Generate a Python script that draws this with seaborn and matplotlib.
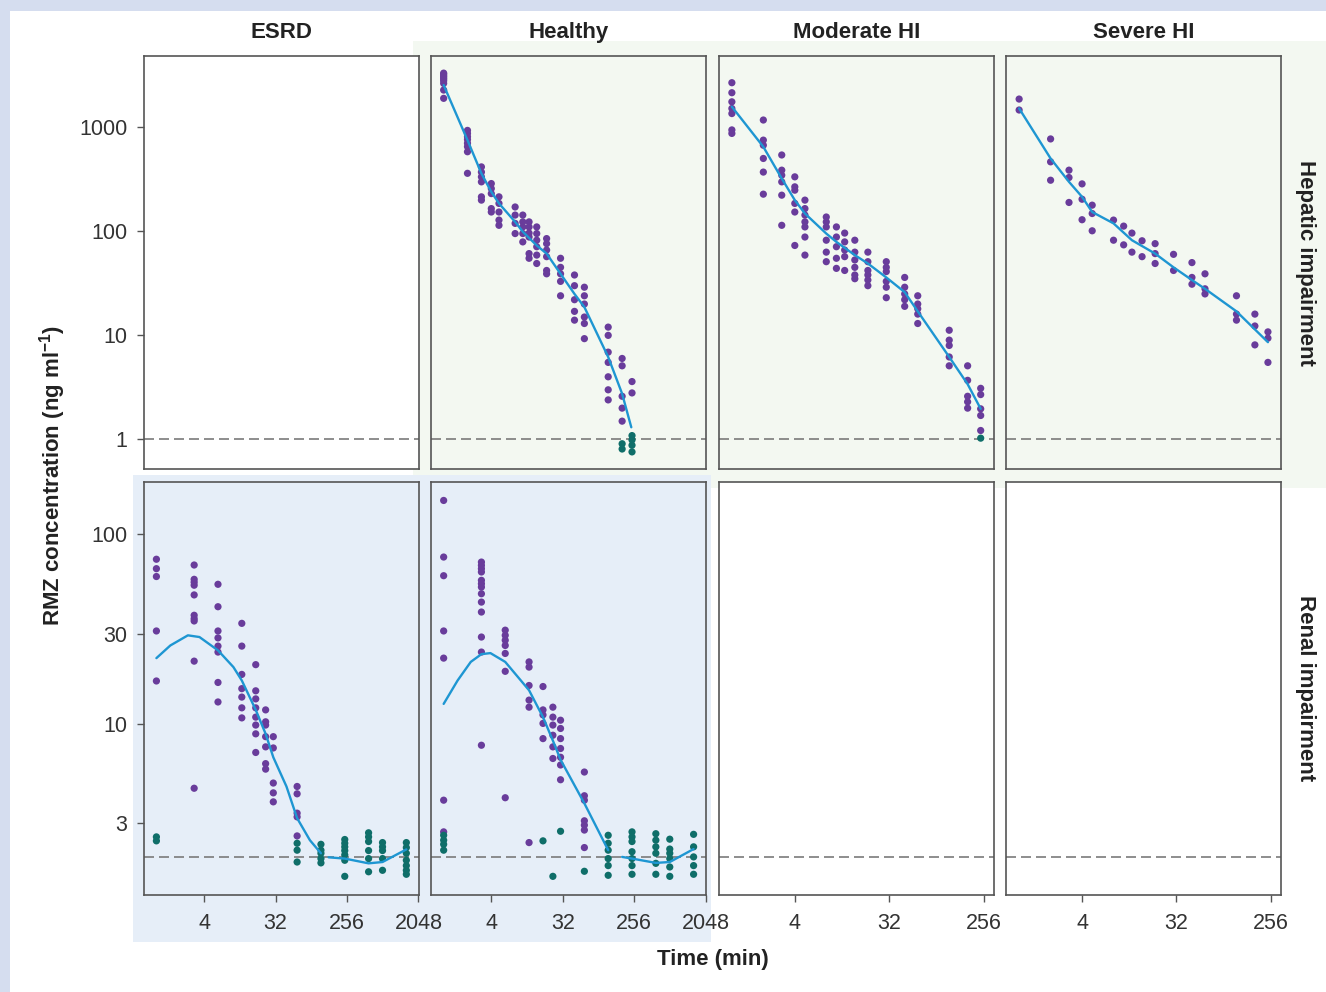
import matplotlib.pyplot as plt
import pandas as pd
import seaborn as sns
from matplotlib.patches import Rectangle
from matplotlib.ticker import NullLocator

W, H = 1326, 992

STUDIES = ["Hepatic impairment", "Renal impairment"]
GROUPS = ["ESRD", "Healthy", "Moderate HI", "Severe HI"]
LLOQ = {"Hepatic impairment": 1, "Renal impairment": 2}

# sampling time (min) -> observed concentrations (ng/ml)
HEP_HEALTHY = {
    1: [3300, 3210, 3100, 3000, 2900, 2790, 2630, 2270, 1890],
    2: [930, 870, 810, 760, 700, 650, 580, 360],
    3: [415, 370, 333, 298, 214, 199],
    4: [287, 257, 230, 165, 153],
    5: [214, 185, 153, 128, 114],
    8: [171, 143, 119, 95],
    10: [143, 123, 110, 95, 79],
    12: [123, 110, 96, 88, 61, 55],
    15: [110, 95, 82, 71, 59, 49],
    20: [85, 76, 66, 57, 42, 39],
    30: [55, 45, 39, 33, 24],
    45: [38, 30, 22, 17, 14],
    60: [29, 24, 20, 15, 13, 9.3],
    120: [12, 10, 6.9, 5.5, 4.0, 3.0, 2.4],
    180: [6.0, 5.1, 2.6, 2.0, 1.5],
    240: [3.6, 2.8],
}
HEP_HEALTHY_BLQ = {180: [0.91, 0.81], 240: [1.09, 0.99, 0.88, 0.76]}
HEP_HEALTHY_FIT_T = [1, 2, 3, 4, 5, 8, 10, 15, 20, 30, 45, 60, 120, 180, 235]
HEP_HEALTHY_FIT_C = [2535, 750, 359, 239, 185, 123, 99, 73, 61, 39, 25, 18.7, 6.2, 2.75, 1.31]

HEP_MODERATE = {
    1: [2670, 2140, 1750, 1510, 1350, 940, 870],
    2: [1170, 750, 670, 500, 370, 227],
    3: [540, 386, 345, 298, 222, 114],
    4: [333, 267, 248, 185, 153, 73],
    5: [199, 165, 143, 123, 110, 88, 59],
    8: [137, 123, 110, 82, 63, 51],
    10: [110, 88, 71, 55, 44],
    12: [96, 79, 66, 57, 42],
    15: [82, 63, 53, 45, 38, 35],
    20: [63, 51, 42, 38, 34, 30],
    30: [51, 45, 41, 33, 29, 23],
    45: [36, 29, 25, 22, 19],
    60: [24, 20, 18, 16, 13],
    120: [11.2, 9.0, 8.0, 6.2, 5.1],
    180: [5.1, 3.7, 2.6, 2.3, 2.0],
    240: [3.1, 2.7, 1.97, 1.7, 1.22],
}
HEP_MODERATE_BLQ = {240: [1.03]}
HEP_MODERATE_FIT_T = [1, 2, 3, 4, 5, 8, 10, 15, 20, 30, 45, 60, 120, 180, 240]
HEP_MODERATE_FIT_C = [1570, 647, 321, 199, 148, 95, 79, 59, 49, 36, 26, 17, 6.2, 3.4, 1.97]

HEP_SEVERE = {
    1: [1860, 1460],
    2: [770, 464, 309],
    3: [386, 328, 189],
    4: [285, 203, 129],
    5: [178, 148, 101],
    8: [128, 82],
    10: [112, 74],
    12: [96, 63],
    15: [81, 57],
    20: [76, 61, 49],
    30: [60, 42],
    45: [50, 36, 31],
    60: [39, 28, 25],
    120: [24, 16, 14],
    180: [16, 12.3, 8.1],
    240: [10.8, 9.4, 5.5],
}
HEP_SEVERE_FIT_T = [1, 2, 3, 4, 5, 8, 12, 20, 30, 45, 60, 120, 240]
HEP_SEVERE_FIT_C = [1513, 500, 298, 214, 153, 119, 82, 61, 45, 34, 28, 17, 8.6]

REN_ESRD = {
    1: [74, 66, 60, 31, 16.9],
    3: [69, 58, 56, 54, 48, 37.5, 36, 35, 21.5, 4.6],
    6: [54.6, 41.6, 31, 28.5, 25.8, 24, 16.6, 13.1],
    12: [34, 25.8, 18.3, 15.4, 13.9, 12.2, 10.8],
    18: [20.6, 15, 13.6, 12.2, 10.9, 9.9, 8.9, 7.1],
    24: [11.9, 10.3, 9.9, 8.6, 7.6, 6.2, 5.8],
    30: [8.6, 7.5, 4.9, 4.35, 3.9],
    60: [4.7, 4.3, 3.4, 3.25, 2.58],
}
REN_ESRD_BLQ = {
    1: [2.55, 2.43],
    60: [2.36, 2.17, 1.88],
    120: [2.33, 2.17, 2.09, 1.96, 1.86],
    240: [2.47, 2.36, 2.26, 2.16, 2.05, 1.92, 1.58],
    480: [2.68, 2.55, 2.41, 2.16, 1.96, 1.67],
    720: [2.38, 2.26, 2.16, 1.96, 1.70],
    1440: [2.38, 2.24, 2.09, 1.92, 1.80, 1.70, 1.62],
}
REN_ESRD_FIT_T = [1, 1.5, 2.5, 3.5, 6, 9.4, 12, 18, 24, 30, 44, 60, 87, 120,
                  150, 240, 480, 720, 1440]
REN_ESRD_FIT_C = [22.3, 26, 29.4, 28.8, 24.5, 20, 17, 11.9, 8.9, 6.7, 4.7, 3.2, 2.45, 2.09,
                  1.99, 1.96, 1.85, 1.88, 2.19]
REN_ESRD_FIT_SEG = [0] * 14 + [1] * 5

REN_HEALTHY = {
    1: [151, 76, 60.6, 31, 22.3, 3.98, 2.71],
    3: [71.5, 68.7, 66, 63.4, 57.3, 55, 52.8, 48.7, 44, 39, 28.8, 24, 7.75],
    6: [31.3, 29.4, 27.7, 26, 23.6, 19, 4.1],
    12: [21.3, 20, 16, 13.4, 12.3, 2.38],
    18: [15.8, 11.9, 11.2, 10.1, 8.4],
    24: [12.3, 10.9, 9.9, 8.75, 7.6, 6.6],
    30: [10.5, 9.5, 8.4, 7.45, 6.7, 6.1, 5.1],
    60: [5.6, 4.2, 3.98, 3.1, 2.94, 2.77, 2.24],
}
REN_HEALTHY_BLQ = {
    1: [2.6, 2.45, 2.33, 2.17],
    18: [2.43],
    24: [1.58],
    30: [2.73],
    60: [1.68],
    120: [2.6, 2.36, 2.17, 1.96, 1.80, 1.6],
    240: [2.71, 2.55, 2.41, 2.13, 1.96, 1.80, 1.62],
    480: [2.65, 2.45, 2.26, 2.09, 1.85, 1.62],
    720: [2.48, 2.2, 2.09, 1.96, 1.77, 1.58],
    1440: [2.63, 2.26, 2.0, 1.80, 1.62],
}
REN_HEALTHY_FIT_T = [1, 1.5, 2.2, 3, 3.9, 6, 12, 18, 24, 30, 60, 120,
                     180, 240, 480, 720, 1440]
REN_HEALTHY_FIT_C = [12.8, 17, 21.3, 23.4, 23.7, 21.3, 15.1, 10.9, 8.2, 6.5, 3.83, 2.17,
                     2.0, 1.96, 1.86, 1.88, 2.2]
REN_HEALTHY_FIT_SEG = [0] * 12 + [1] * 5

PURPLE = "#693c9b"
TEAL = "#0f6e69"
LINE_COLOR = "#1e96d2"
GREEN_BG = "#f3f8f1"
BLUE_BG = "#e6eef8"
FRAME = "#d5ddef"
SPINE = "#555555"


def collect(rows, study, group, obs, kind):
    for t, vals in obs.items():
        for v in vals:
            rows.append(dict(study=study, group=group, kind=kind, time=t, conc=v, seg=0))


def collect_fit(rows, study, group, ts, cs, segs=None):
    segs = segs or [0] * len(ts)
    for t, c, s in zip(ts, cs, segs):
        rows.append(dict(study=study, group=group, kind="fit", time=t, conc=c, seg=s))


rows = []
collect(rows, STUDIES[0], "Healthy", HEP_HEALTHY, "obs")
collect(rows, STUDIES[0], "Healthy", HEP_HEALTHY_BLQ, "blq")
collect_fit(rows, STUDIES[0], "Healthy", HEP_HEALTHY_FIT_T, HEP_HEALTHY_FIT_C)
collect(rows, STUDIES[0], "Moderate HI", HEP_MODERATE, "obs")
collect(rows, STUDIES[0], "Moderate HI", HEP_MODERATE_BLQ, "blq")
collect_fit(rows, STUDIES[0], "Moderate HI", HEP_MODERATE_FIT_T, HEP_MODERATE_FIT_C)
collect(rows, STUDIES[0], "Severe HI", HEP_SEVERE, "obs")
collect_fit(rows, STUDIES[0], "Severe HI", HEP_SEVERE_FIT_T, HEP_SEVERE_FIT_C)
collect(rows, STUDIES[1], "ESRD", REN_ESRD, "obs")
collect(rows, STUDIES[1], "ESRD", REN_ESRD_BLQ, "blq")
collect_fit(rows, STUDIES[1], "ESRD", REN_ESRD_FIT_T, REN_ESRD_FIT_C, REN_ESRD_FIT_SEG)
collect(rows, STUDIES[1], "Healthy", REN_HEALTHY, "obs")
collect(rows, STUDIES[1], "Healthy", REN_HEALTHY_BLQ, "blq")
collect_fit(rows, STUDIES[1], "Healthy", REN_HEALTHY_FIT_T, REN_HEALTHY_FIT_C, REN_HEALTHY_FIT_SEG)
df = pd.DataFrame(rows)

sns.set_style("ticks")
plt.rcParams["font.family"] = ["Liberation Sans", "DejaVu Sans"]
plt.rcParams["mathtext.fontset"] = "custom"
plt.rcParams["mathtext.rm"] = "Liberation Sans"
plt.rcParams["mathtext.bf"] = "Liberation Sans:bold"


def draw_panel(data, **kws):
    ax = plt.gca()
    pts = data[data["kind"] != "fit"]
    fit = data[data["kind"] == "fit"]
    if len(pts):
        sns.scatterplot(data=pts, x="time", y="conc", hue="kind",
                        palette={"obs": PURPLE, "blq": TEAL}, s=27, linewidth=0,
                        legend=False, ax=ax, zorder=2)
    if len(fit):
        sns.lineplot(data=fit, x="time", y="conc", units="seg", estimator=None,
                     color=LINE_COLOR, linewidth=1.7, ax=ax, zorder=3)


g = sns.FacetGrid(df, row="study", col="group", row_order=STUDIES, col_order=GROUPS,
                  sharex="col", sharey="row", despine=False, height=4, aspect=0.67)
for ax in g.axes.flat:
    ax.set_xscale("log", base=2)
    ax.set_yscale("log")
g.map_dataframe(draw_panel)
g.set_titles(template="")

fig = g.figure
fig.set_size_inches(W / 100, H / 100)
fig.subplots_adjust(left=144 / W, right=1281 / W, top=1 - 56 / H, bottom=1 - 895 / H,
                    wspace=12 / 275, hspace=12 / 413)


def px_rect(x0, y0, x1, y1, color):
    return Rectangle((x0 / W, 1 - y1 / H), (x1 - x0) / W, (y1 - y0) / H,
                     transform=fig.transFigure, facecolor=color, edgecolor="none", zorder=-5)


fig.add_artist(px_rect(413, 41, W, 488, GREEN_BG))
fig.add_artist(px_rect(133, 475, 711, 942, BLUE_BG))
fig.add_artist(px_rect(0, 0, W, 11, FRAME))
fig.add_artist(px_rect(0, 0, 10, H, FRAME))

shaded = {(0, 1): GREEN_BG, (0, 2): GREEN_BG, (0, 3): GREEN_BG,
          (1, 0): BLUE_BG, (1, 1): BLUE_BG}

for i, study in enumerate(STUDIES):
    for j, group in enumerate(GROUPS):
        ax = g.axes[i, j]
        ax.set_facecolor(shaded.get((i, j), "white"))
        ax.axhline(LLOQ[study], color="#7a7a7a", lw=1.2, ls=(0, (6, 3)), zorder=1.5)
        ax.set_xlabel("")
        ax.set_ylabel("")
        for sp in ax.spines.values():
            sp.set_color(SPINE)
            sp.set_linewidth(1.2)
        if j < 2:
            ax.set_xlim(0.697, 2096)
            ax.set_xticks([4, 32, 256, 2048], labels=["4", "32", "256", "2048"])
        else:
            ax.set_xlim(0.745, 320)
            ax.set_xticks([4, 32, 256], labels=["4", "32", "256"])
        if i == 0:
            ax.set_ylim(0.515, 4820)
            ax.set_yticks([1, 10, 100, 1000], labels=["1", "10", "100", "1000"])
            ax.set_title(group, fontsize=16, fontweight="bold", color="#222222", pad=13)
        else:
            ax.set_ylim(1.26, 190)
            ax.set_yticks([3, 10, 30, 100], labels=["3", "10", "30", "100"])
        ax.xaxis.set_minor_locator(NullLocator())
        ax.yaxis.set_minor_locator(NullLocator())
        ax.tick_params(length=5, width=1, color=SPINE, labelsize=15.5, labelcolor="#333333")
        ax.tick_params(axis="x", bottom=(i == 1), labelbottom=(i == 1), pad=8)
        ax.tick_params(axis="y", left=(j == 0), labelleft=(j == 0), pad=7)
        if j == 3:
            ax.text(1.05, 0.5, study, transform=ax.transAxes, rotation=270,
                    ha="left", va="center", fontsize=16, fontweight="bold", color="#222222")

fig.text(53 / W, 1 - 475 / H, r"RMZ concentration (ng ml$^{\mathbf{-1}}$)", rotation=90,
         ha="center", va="center", fontsize=16, fontweight="bold", color="#222222")
fig.text(712.5 / W, 1 - 959 / H, "Time (min)", ha="center", va="center",
         fontsize=16, fontweight="bold", color="#222222")

fig.savefig("out.png", dpi=100)
